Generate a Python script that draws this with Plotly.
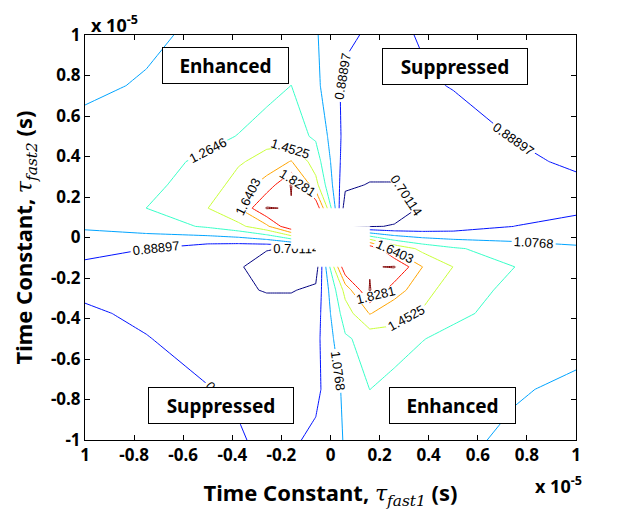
import plotly.graph_objects as go

# grid nodes (units of 1e-5 s)
tau1 = [-1, -0.75, -0.5, -0.375, -0.26, -0.16, -0.06, 0.06, 0.16, 0.26, 0.375, 0.5, 0.75, 1]
tau2 = [-1, -0.75, -0.5, -0.375, -0.26, -0.145, -0.055, 0.055, 0.145, 0.26, 0.375, 0.5, 0.75, 1]

# ratio values, one row per tau2 node (bottom to top), columns follow tau1
row_m100 = [0.96, 0.93, 0.91, 0.895, 0.875, 0.86, 0.93, 1.09, 1.15, 1.13, 1.12, 1.11, 1.05, 1.00]
row_m075 = [0.94, 0.92, 0.892, 0.88, 0.87, 0.85, 0.84, 1.12, 1.266, 1.18, 1.17, 1.15, 1.09, 1.05]
row_m050 = [0.92, 0.892, 0.86, 0.85, 0.84, 0.83, 0.83, 1.24, 1.33, 1.38, 1.27, 1.22, 1.18, 1.12]
row_m0375 = [0.90, 0.875, 0.83, 0.79, 0.78, 0.78, 0.795, 1.36, 1.65, 1.52, 1.43, 1.30, 1.20, 1.15]
row_m026 = [0.875, 0.85, 0.78, 0.73, 0.69, 0.69, 0.74, 1.515, 2.03, 1.72, 1.53, 1.35, 1.22, 1.17]
row_m0145 = [0.85, 0.83, 0.76, 0.715, 0.64, 0.58, 0.60, 2.00, 2.00, 2.03, 1.64, 1.45, 1.265, 1.19]
row_m0055 = [0.95, 0.89, 0.78, 0.74, 0.71, 0.69, 0.60, 2.00, 2.00, 1.60, 1.40, 1.29, 1.165, 1.10]
row_p0055 = [1.10, 1.165, 1.29, 1.40, 1.60, 2.00, 2.00, 0.60, 0.69, 0.71, 0.74, 0.78, 0.89, 0.95]
row_p0145 = [1.19, 1.265, 1.45, 1.64, 2.03, 2.00, 2.00, 0.60, 0.58, 0.64, 0.715, 0.76, 0.83, 0.85]
row_p026 = [1.17, 1.22, 1.35, 1.53, 1.72, 2.03, 1.515, 0.74, 0.69, 0.69, 0.73, 0.78, 0.85, 0.875]
row_p0375 = [1.15, 1.20, 1.30, 1.43, 1.52, 1.65, 1.36, 0.795, 0.78, 0.78, 0.79, 0.83, 0.875, 0.90]
row_p050 = [1.12, 1.18, 1.22, 1.27, 1.38, 1.33, 1.24, 0.83, 0.83, 0.84, 0.85, 0.86, 0.892, 0.92]
row_p075 = [1.05, 1.09, 1.15, 1.17, 1.18, 1.266, 1.12, 0.84, 0.85, 0.87, 0.88, 0.892, 0.92, 0.94]
row_p100 = [1.00, 1.05, 1.11, 1.12, 1.13, 1.15, 1.09, 0.93, 0.86, 0.875, 0.895, 0.91, 0.93, 0.96]

ratio = [row_m100, row_m075, row_m050, row_m0375, row_m026, row_m0145, row_m0055,
         row_p0055, row_p0145, row_p026, row_p0375, row_p050, row_p075, row_p100]

level_start = 0.70114
level_step = 0.18783
level_end = 2.0160

# MATLAB jet colours for the 8 contour levels
jet_colors = ["rgb(0,0,128)", "rgb(0,18,255)", "rgb(0,164,255)", "rgb(55,255,200)",
              "rgb(200,255,55)", "rgb(255,164,0)", "rgb(255,18,0)", "rgb(128,0,0)"]

x_tick_vals = [-1, -0.8, -0.6, -0.4, -0.2, 0, 0.2, 0.4, 0.6, 0.8, 1]
x_tick_text = ["1", "-0.8", "-0.6", "-0.4", "-0.2", "0", "0.2", "0.4", "0.6", "0.8", "1"]
y_tick_vals = [-1, -0.8, -0.6, -0.4, -0.2, 0, 0.2, 0.4, 0.6, 0.8, 1]
y_tick_text = ["-1", "-0.8", "-0.6", "-0.4", "-0.2", "0", "0.2", "0.4", "0.6", "0.8", "1"]

region_text = ["Enhanced", "Suppressed", "Suppressed", "Enhanced"]

n = len(jet_colors)
colorscale = [[i / (n - 1), c] for i, c in enumerate(jet_colors)]

fig = go.Figure()
fig.add_trace(go.Contour(
    x=tau1, y=tau2, z=ratio,
    colorscale=colorscale,
    showscale=False,
    contours=dict(start=level_start, end=level_end, size=level_step,
                  coloring="lines", showlabels=True,
                  labelfont=dict(family="Liberation Sans", size=13, color="black"),
                  labelformat=".5~g"),
    line=dict(width=1, smoothing=0),
    hoverinfo="skip",
))

# blank centre (no data there)
shapes = [
    dict(type="rect", xref="x", yref="y", x0=tau1[5], x1=tau1[8], y0=tau2[6], y1=tau2[7],
         fillcolor="white", line=dict(width=0), layer="above"),
    dict(type="rect", xref="x", yref="y", x0=tau1[6], x1=tau1[7], y0=tau2[5], y1=tau2[8],
         fillcolor="white", line=dict(width=0), layer="above"),
]

box_pos = [(-0.427, 0.849), (0.508, 0.844), (-0.445, -0.829), (0.495, -0.829)]
box_w = [125, 144, 144, 125]
annotations = []
for t, (bx, by), w in zip(region_text, box_pos, box_w):
    annotations.append(dict(x=bx, y=by, xref="x", yref="y", text="<b>" + t + "</b>",
                            showarrow=False, bgcolor="white", bordercolor="black",
                            borderwidth=1, borderpad=0, width=w, height=35,
                            font=dict(family="Noto Sans", size=19, color="black")))

annotations.append(dict(x=0.008, y=0.99, xref="paper", yref="paper", xanchor="left",
                        yanchor="bottom", showarrow=False,
                        text="<b>x 10<sup>-5</sup></b>",
                        font=dict(family="Noto Sans", size=18, color="black")))
annotations.append(dict(x=0.912, y=-0.075, xref="paper", yref="paper", xanchor="left",
                        yanchor="top", showarrow=False,
                        text="<b>x 10<sup>-5</sup></b>",
                        font=dict(family="Noto Sans", size=18, color="black")))

tau_style = "font-family:'DejaVu Serif';font-weight:normal"
xtitle = ("<b>Time Constant, </b><span style=\"" + tau_style + "\"><i>τ</i><sub><i>fast1</i></sub></span>"
          "<b> (s)</b>")
ytitle = ("<b>Time Constant, </b><span style=\"" + tau_style + "\"><i>τ</i><sub><i>fast2</i></sub></span>"
          "<b> (s)</b>")

axis_common = dict(showline=True, linecolor="black", linewidth=1, mirror="ticks",
                   ticks="inside", ticklen=5, tickcolor="black", showgrid=False,
                   zeroline=False, range=[-1, 1], automargin=False,
                   tickfont=dict(family="Noto Sans", size=17, color="black", weight="bold"))

# page body has an 8px margin, so the figure is shrunk by that amount
fig.update_layout(
    width=615, height=505,
    margin=dict(l=77, r=47, t=27, b=73),
    paper_bgcolor="white", plot_bgcolor="white",
    xaxis=dict(axis_common, tickvals=x_tick_vals, ticktext=x_tick_text,
               title=dict(text=xtitle, font=dict(family="Noto Sans", size=22, color="black"),
                          standoff=20)),
    yaxis=dict(axis_common, tickvals=y_tick_vals, ticktext=y_tick_text,
               title=dict(text=ytitle, font=dict(family="Noto Sans", size=22, color="black"),
                          standoff=17)),
    shapes=shapes,
    annotations=annotations,
    showlegend=False,
)

fig.write_html("out.html")
